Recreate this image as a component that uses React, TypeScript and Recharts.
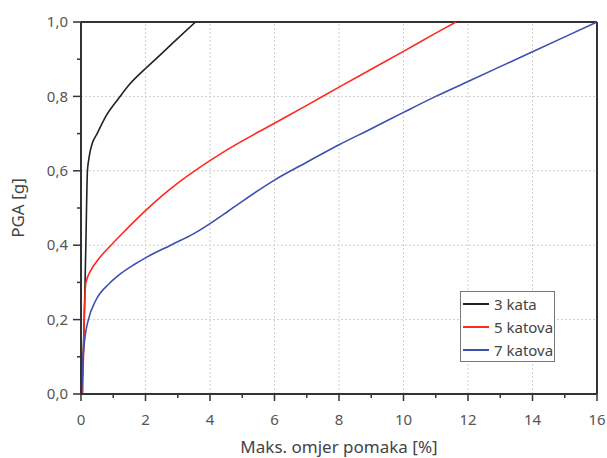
import React from "react"
import { LineChart, Line, XAxis, YAxis, ReferenceLine, Legend, Label } from "recharts"

// 3 kata
const blackX = [0.02, 0.1, 0.15, 0.2, 0.24, 0.29, 0.35, 0.5, 0.76, 1.17, 1.5, 2, 2.5, 3, 3.55]
const blackY = [0, 0.2, 0.4, 0.6, 0.63, 0.655, 0.674, 0.7, 0.745, 0.795, 0.832, 0.875, 0.915, 0.956, 1.0]

// 5 katova
const redX = [0.05, 0.08, 0.1, 0.155, 0.31, 0.52, 0.93, 1.4, 2, 2.5, 3, 3.56, 4.54, 6, 7, 8, 9, 10, 11, 11.63]
const redY = [0, 0.118, 0.2, 0.3, 0.333, 0.36, 0.4, 0.442, 0.493, 0.532, 0.567, 0.602, 0.657, 0.728, 0.776, 0.825, 0.873, 0.921, 0.97, 1.0]

// 7 katova
const blueX = [0.02, 0.05, 0.12, 0.23, 0.46, 0.88, 1.24, 1.65, 2, 2.78, 3.5, 4, 4.54, 5, 6, 7, 8, 9, 10, 11, 12, 13, 14, 15, 16]
const blueY = [0, 0.073, 0.15, 0.2, 0.252, 0.297, 0.324, 0.348, 0.366, 0.4, 0.431, 0.458, 0.49, 0.518, 0.575, 0.623, 0.67, 0.713, 0.757, 0.8, 0.84, 0.88, 0.92, 0.96, 1.0]

const xTicks = [0, 1, 2, 3, 4, 5, 6, 7, 8, 9, 10, 11, 12, 13, 14, 15, 16]
const yTicks = [0, 0.1, 0.2, 0.3, 0.4, 0.5, 0.6, 0.7, 0.8, 0.9, 1.0]
const xGrid = [2, 4, 6, 8, 10, 12, 14]
const yGrid = [0.2, 0.4, 0.6, 0.8]

const zip = (xs: number[], ys: number[]) => xs.map((x, i) => ({ x, y: ys[i] }))

const series = [
  { name: "3 kata", color: "#222222", data: zip(blackX, blackY) },
  { name: "5 katova", color: "#ff2a1f", data: zip(redX, redY) },
  { name: "7 katova", color: "#3d4fb0", data: zip(blueX, blueY) },
]

const FONT = "'Noto Sans', sans-serif"
const AXIS = "#333"

const XTick = ({ x, y, payload }: any) => {
  const major = payload.value % 2 === 0
  return (
    <g>
      <line x1={x} y1={y} x2={x} y2={y + (major ? 7 : 4)} stroke={AXIS} strokeWidth={1.5} />
      {major && (
        <text x={x} y={y + 31} textAnchor="middle" fill="#555" fontSize={15} fontFamily={FONT}>
          {payload.value}
        </text>
      )}
    </g>
  )
}

const YTick = ({ x, y, payload }: any) => {
  const major = Math.round(payload.value * 10) % 2 === 0
  return (
    <g>
      <line x1={x} y1={y} x2={x - (major ? 8 : 4)} y2={y} stroke={AXIS} strokeWidth={1.5} />
      {major && (
        <text x={x - 13} y={y} dy="0.35em" textAnchor="end" fill="#555" fontSize={15} fontFamily={FONT}>
          {payload.value.toFixed(1).replace(".", ",")}
        </text>
      )}
    </g>
  )
}

const LegendBox = () => (
  <div
    style={{
      border: "1px solid #777",
      background: "#fff",
      width: 93,
      fontFamily: FONT,
      fontSize: 15,
      color: "#444",
    }}
  >
    {series.map((s) => (
      <div key={s.name} style={{ display: "flex", alignItems: "center", height: 23 }}>
        <svg width={31} height={10} style={{ marginLeft: 2 }}>
          <line x1={0} y1={5} x2={26} y2={5} stroke={s.color} strokeWidth={2} />
        </svg>
        <span>{s.name}</span>
      </div>
    ))}
  </div>
)

export default function App() {
  return (
    <div style={{ position: "absolute", left: 0, top: 0, background: "#fff" }}>
      <LineChart width={607} height={458} margin={{ top: 22, right: 10, left: 0, bottom: 0 }}>
        {xGrid.map((v) => (
          <ReferenceLine key={"gx" + v} x={v} stroke="#cfcfcf" strokeDasharray="2 2" />
        ))}
        {yGrid.map((v) => (
          <ReferenceLine key={"gy" + v} y={v} stroke="#cfcfcf" strokeDasharray="2 2" />
        ))}
        <XAxis
          dataKey="x"
          type="number"
          domain={[0, 16]}
          ticks={xTicks}
          interval={0}
          height={64}
          tickSize={0}
          tickMargin={0}
          tickLine={false}
          tick={<XTick />}
          stroke={AXIS}
          strokeWidth={2}
          allowDuplicatedCategory={false}
        >
          <Label
            value="Maks. omjer pomaka [%]"
            position="insideBottom"
            offset={5}
            fill="#444"
            fontSize={17}
            fontFamily={FONT}
          />
        </XAxis>
        <YAxis
          type="number"
          domain={[0, 1]}
          ticks={yTicks}
          interval={0}
          width={81}
          tickSize={0}
          tickMargin={0}
          tickLine={false}
          tick={<YTick />}
          stroke={AXIS}
          strokeWidth={2}
        >
          <Label
            value="PGA [g]"
            angle={-90}
            position="insideLeft"
            offset={18}
            fill="#444"
            fontSize={17}
            fontFamily={FONT}
            style={{ textAnchor: "middle" }}
          />
        </YAxis>
        <ReferenceLine y={1} stroke={AXIS} strokeWidth={2} />
        <ReferenceLine x={16} stroke={AXIS} strokeWidth={2} />
        {series.map((s) => (
          <Line
            key={s.name}
            data={s.data}
            dataKey="y"
            name={s.name}
            type="monotone"
            stroke={s.color}
            strokeWidth={1.6}
            dot={false}
            activeDot={false}
            isAnimationActive={false}
          />
        ))}
        <Legend
          layout="horizontal"
          verticalAlign="middle"
          align="center"
          content={<LegendBox />}
          wrapperStyle={{ left: 460, top: 291, width: 95 }}
        />
      </LineChart>
    </div>
  )
}
